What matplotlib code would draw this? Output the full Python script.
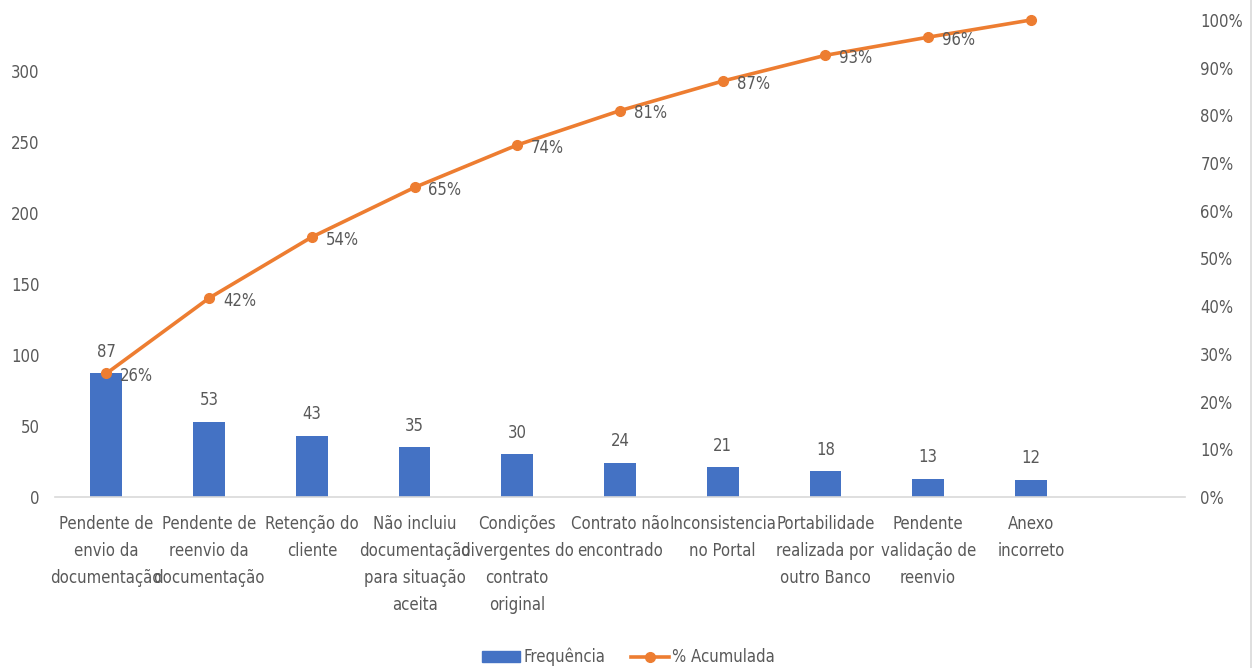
import matplotlib.pyplot as plt
from matplotlib.lines import Line2D
from matplotlib import font_manager as fm

# narrow font like the Excel original; pick what is available
_names = {f.name for f in fm.fontManager.ttflist}
if 'Liberation Sans Narrow' in _names:
    plt.rcParams['font.family'] = ['Liberation Sans Narrow', 'DejaVu Sans']
    FS = 13.5
else:
    plt.rcParams['font.family'] = ['DejaVu Sans']
    plt.rcParams['font.stretch'] = 'condensed'
    FS = 12

categories = [
    "Pendente de\nenvio da\ndocumentação",
    "Pendente de\nreenvio da\ndocumentação",
    "Retenção do\ncliente",
    "Não incluiu\ndocumentação\npara situação\naceita",
    "Condições\ndivergentes do\ncontrato\noriginal",
    "Contrato não\nencontrado",
    "Inconsistencia\nno Portal",
    "Portabilidade\nrealizada por\noutro Banco",
    "Pendente\nvalidação de\nreenvio",
    "Anexo\nincorreto",
]
frequencia = [87, 53, 43, 35, 30, 24, 21, 18, 13, 12]
acumulada = [25.9, 41.7, 54.5, 64.9, 73.8, 81.0, 87.2, 92.6, 96.4, 100.0]
pct_labels = ["26%", "42%", "54%", "65%", "74%", "81%", "87%", "93%", "96%", ""]

BLUE = '#4472C4'
ORANGE = '#ED7D31'
GREY = '#595959'

fig = plt.figure(figsize=(12.57, 6.68), dpi=100, facecolor='w')
ax = fig.add_axes([55/1257, 171/668, 1130/1257, 477/668])
ax2 = ax.twinx()

x = list(range(len(categories)))
ax.bar(x, frequencia, width=0.31, color=BLUE, zorder=2)
for xi, v in zip(x, frequencia):
    ax.annotate(str(v), (xi, v), xytext=(0, 9), textcoords='offset points',
                ha='center', va='bottom', fontsize=FS, color=GREY)

ax2.plot(x, acumulada, color=ORANGE, lw=2.6, marker='o', markersize=7,
         solid_capstyle='round', zorder=3, clip_on=False)
for xi, v, t in zip(x, acumulada, pct_labels):
    ax2.annotate(t, (xi, v), xytext=(10, -2), textcoords='offset points',
                 ha='left', va='center', fontsize=FS, color=GREY)

ax.set_xlim(-0.5, 10.5)
ax.set_ylim(0, 336)
ax.set_yticks(range(0, 301, 50))
ax2.set_ylim(0, 100)
ax2.set_yticks(range(0, 101, 10))
ax2.set_yticklabels(["%d%%" % t for t in range(0, 101, 10)])

ax.set_xticks(x)
ax.set_xticklabels(categories, fontsize=FS, color=GREY, linespacing=1.65)

for a in (ax, ax2):
    for s in ('top', 'left', 'right', 'bottom'):
        a.spines[s].set_visible(False)
    a.tick_params(length=0, labelsize=FS, colors=GREY)
ax.spines['bottom'].set_visible(True)
ax.spines['bottom'].set_color('#D9D9D9')
ax.spines['bottom'].set_linewidth(1.2)
ax.tick_params(axis='y', pad=11)
ax.tick_params(axis='x', pad=13)
ax2.tick_params(axis='y', pad=11)

fig.add_artist(Line2D([0.9955, 0.9955], [0.0, 1.0], color='#D9D9D9', lw=1.2))

handles = [plt.Rectangle((0, 0), 1, 1, color=BLUE),
           Line2D([], [], color=ORANGE, lw=2.6, marker='o', markersize=7)]
fig.legend(handles, ['Frequência', '% Acumulada'], loc='lower center',
           bbox_to_anchor=(0.5, -0.02), ncol=2, frameon=False, fontsize=FS,
           labelcolor=GREY, handlelength=2.3, handletextpad=0.2, columnspacing=1.5)

plt.savefig('out.png', dpi=100)
